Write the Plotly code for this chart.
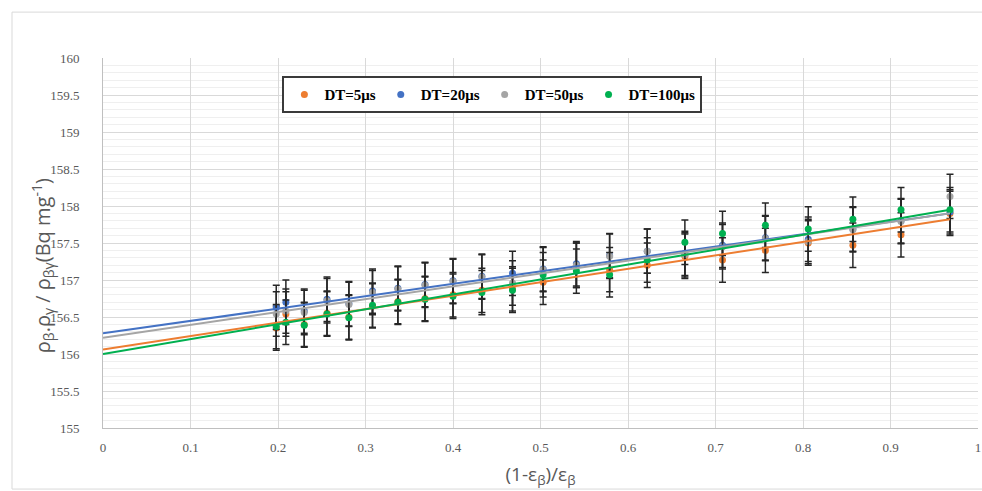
import numpy as np
import plotly.graph_objects as go

# ---- data ----
x_vals = [0.198, 0.209, 0.230, 0.256, 0.281, 0.308, 0.337, 0.368, 0.400, 0.433, 0.468,
          0.503, 0.541, 0.579, 0.622, 0.665, 0.708, 0.757, 0.806, 0.857, 0.912, 0.968]

dt5 = [156.35, 156.54, 156.40, 156.55, 156.50, 156.65, 156.71, 156.75, 156.80, 156.86, 156.88,
       156.97, 157.20, 157.14, 157.20, 157.32, 157.27, 157.40, 157.50, 157.47, 157.61, 157.90]
dt20 = [156.63, 156.70, 156.58, 156.74, 156.68, 156.85, 156.89, 156.94, 156.99, 157.05, 157.09,
        157.15, 157.22, 157.33, 157.39, 157.36, 157.47, 157.57, 157.55, 157.69, 157.80, 157.92]
dt50 = [156.54, 156.58, 156.56, 156.72, 156.67, 156.83, 156.88, 156.93, 156.98, 157.04, 156.96,
        157.14, 157.20, 157.32, 157.39, 157.34, 157.45, 157.56, 157.52, 157.68, 157.79, 158.13]
dt100 = [156.37, 156.43, 156.39, 156.54, 156.49, 156.66, 156.70, 156.74, 156.78, 156.83, 156.86,
         157.07, 157.12, 157.07, 157.27, 157.51, 157.63, 157.74, 157.69, 157.82, 157.95, 157.95]

err_half = 0.3  # fixed-value error bars

# linear trendline equations as shown in the chart (y = intercept + slope * x)
trend_intercepts = [156.06, 156.28, 156.22, 156.00]
trend_slopes = [1.818, 1.674, 1.736, 2.014]

series_names = ["DT=5μs", "DT=20μs", "DT=50μs", "DT=100μs"]
series_vals = [dt5, dt20, dt50, dt100]
series_colors = ["#ED7D31", "#4472C4", "#A5A5A5", "#00B050"]

x_title = "(1-ε<sub>β</sub>)/ε<sub>β</sub>"
y_title = "ρ<sub>β</sub>.ρ<sub>γ</sub> / ρ<sub>βγ</sub>(Bq mg<sup>-1</sup>)"

fig = go.Figure()

for name, vals, col in zip(series_names, series_vals, series_colors):
    fig.add_trace(go.Scatter(
        x=x_vals, y=vals, mode="markers", name=name,
        marker=dict(color=col, size=7),
        error_y=dict(type="constant", value=err_half, color="#262626", thickness=1.5, width=3.5),
    ))

# linear trendlines, forecast back to x=0
for b0, b1, col in zip(trend_intercepts, trend_slopes, series_colors):
    xs = np.array([0.0, max(x_vals)])
    fig.add_trace(go.Scatter(
        x=xs, y=b0 + b1 * xs, mode="lines", showlegend=False,
        line=dict(color=col, width=2), hoverinfo="skip",
    ))

tick_font = dict(family="Liberation Serif", size=13, color="#595959")
title_font = dict(family="Open Sans", size=19, color="#595959")

fig.update_layout(
    width=982, height=491,
    margin=dict(l=103, r=4, t=58, b=63),
    paper_bgcolor="white", plot_bgcolor="white",
    showlegend=True,
    legend=dict(
        orientation="h", x=0.205, y=0.951, xanchor="left", yanchor="top",
        bordercolor="#3a3a3a", borderwidth=2, bgcolor="white",
        font=dict(family="Liberation Serif", size=15, color="#000000", weight="bold"),
        itemwidth=30, tracegroupgap=0,
    ),
    xaxis=dict(
        range=[0, 1], dtick=0.1, tick0=0,
        showgrid=True, gridcolor="#D9D9D9", gridwidth=1,
        zeroline=False, showline=True, linecolor="#BFBFBF", linewidth=1, automargin=False,
        ticks="", tickfont=tick_font, ticklabelstandoff=7, ticklabeloverflow="allow",
        title=dict(text=x_title, font=title_font, standoff=14),
    ),
    yaxis=dict(
        range=[155, 160], dtick=0.5, tick0=155, showgrid=True, gridcolor="#D9D9D9", gridwidth=1,
        minor=dict(dtick=0.1, showgrid=True, gridcolor="#EFEFEF", gridwidth=1),
        zeroline=False, showline=True, linecolor="#BFBFBF", linewidth=1, automargin=False,
        ticks="", tickfont=tick_font, ticklabelstandoff=20, ticklabeloverflow="allow",
    ),
    annotations=[dict(text=y_title, xref="paper", yref="paper", x=-0.0686, y=0.44,
                      xanchor="center", yanchor="middle", textangle=-90, showarrow=False,
                      font=dict(family="Open Sans", size=20, color="#595959"))],
    shapes=[dict(type="rect", xref="paper", yref="paper",
                 x0=-0.104, x1=1.02, y0=-0.165, y1=1.124,
                 line=dict(color="#D9D9D9", width=1), fillcolor="rgba(0,0,0,0)", layer="below")],
)

# remove the default page margin / scrollbars so the 982x491 figure fills the window exactly
page_fix = ("document.body.style.margin='0';"
            "document.body.style.overflow='hidden';"
            "document.documentElement.style.overflow='hidden';")

fig.write_html("out.html", post_script=page_fix, config={"displayModeBar": False})
